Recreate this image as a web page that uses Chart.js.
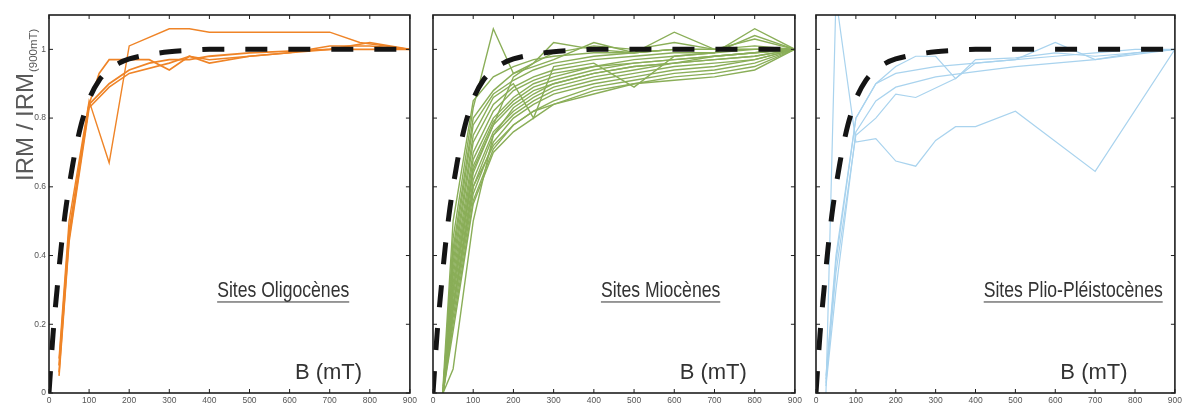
<!DOCTYPE html>
<html>
<head>
<meta charset="utf-8">
<script src="https://cdn.jsdelivr.net/npm/chart.js@4.4.0/dist/chart.umd.min.js"></script>
<style>
  html, body { margin: 0; padding: 0; background: #fff; }
  #wrap { position: relative; width: 1185px; height: 403px; overflow: hidden; }
  canvas { position: absolute; top: 0; }
</style>
</head>
<body>
<div id="wrap">
  <canvas id="oligo" width="420" height="403" style="left:0px"></canvas>
  <canvas id="mio" width="385" height="403" style="left:420px"></canvas>
  <canvas id="plio" width="380" height="403" style="left:805px"></canvas>
</div>
<script>
// axis ticks
const ticksB = [0, 100, 200, 300, 400, 500, 600, 700, 800, 900];
const ticksIRM = [0, 0.2, 0.4, 0.6, 0.8, 1];

// reference curve (dashed)
const refB   = [0, 10, 20, 30, 40, 50, 60, 70, 80, 90, 100, 125, 150, 175, 200, 250, 300, 350, 400, 500, 600, 700, 800, 900];
const refIRM = [0, 0.17, 0.3, 0.42, 0.52, 0.6, 0.67, 0.73, 0.78, 0.82, 0.855, 0.91, 0.94, 0.96, 0.972, 0.985, 0.993, 0.997, 1.0, 1.0, 1.0, 1.0, 1.0, 1.0];

// Oligocene sites
const oligB1 = [25, 50, 100, 150, 200, 300, 350, 400, 500, 600, 700, 775, 900];
const oligIRM1 = [0.1, 0.5, 0.85, 0.67, 1.01, 1.06, 1.06, 1.05, 1.05, 1.05, 1.05, 1.02, 1.0];
const oligB2 = [25, 50, 100, 125, 150, 200, 250, 300, 350, 400, 500, 600, 700, 800, 900];
const oligIRM2 = [0.06, 0.45, 0.84, 0.93, 0.97, 0.97, 0.97, 0.94, 0.98, 0.96, 0.98, 0.99, 1.01, 1.01, 1.0];
const oligB3 = [25, 50, 100, 150, 200, 250, 300, 350, 400, 500, 600, 700, 800, 900];
const oligIRM3 = [0.08, 0.47, 0.84, 0.9, 0.94, 0.96, 0.97, 0.97, 0.98, 0.99, 0.995, 1.0, 1.0, 1.0];
const oligB4 = [25, 50, 100, 150, 200, 300, 350, 400, 500, 600, 700, 800, 900];
const oligIRM4 = [0.05, 0.44, 0.83, 0.89, 0.93, 0.96, 0.98, 0.97, 0.98, 0.99, 1.0, 1.02, 1.0];

// Miocene sites
const mioB = [25, 50, 100, 150, 200, 250, 300, 400, 500, 600, 700, 800, 900];
const mioIRM1  = [0.02, 0.5, 0.85, 0.92, 0.95, 0.97, 0.98, 0.99, 0.99, 1.0, 1.0, 1.0, 1.0];
const mioIRM2  = [0.0, 0.45, 0.83, 1.06, 0.93, 0.96, 1.02, 1.0, 0.99, 1.0, 1.0, 1.01, 1.0];
const mioIRM3  = [0.0, 0.42, 0.8, 0.88, 0.93, 0.95, 0.97, 1.02, 0.99, 1.0, 1.0, 1.0, 1.0];
const mioIRM4  = [0.01, 0.4, 0.78, 0.87, 0.91, 0.94, 0.96, 0.98, 0.99, 1.05, 1.0, 1.0, 1.0];
const mioIRM5  = [0.0, 0.38, 0.75, 0.86, 0.9, 0.8, 0.95, 0.97, 0.98, 0.99, 0.99, 1.06, 1.0];
const mioIRM6  = [0.0, 0.36, 0.73, 0.84, 0.89, 0.92, 0.94, 0.96, 0.89, 0.98, 0.99, 1.0, 1.0];
const mioIRM7  = [0.0, 0.34, 0.7, 0.82, 0.88, 0.91, 0.93, 0.95, 0.97, 0.98, 0.99, 1.04, 1.0];
const mioIRM8  = [0.0, 0.32, 0.68, 0.8, 0.86, 0.9, 0.92, 0.95, 0.96, 0.97, 0.98, 0.99, 1.0];
const mioIRM9  = [0.0, 0.3, 0.66, 0.79, 0.85, 0.89, 0.91, 0.94, 0.96, 0.97, 0.98, 0.99, 1.0];
const mioIRM10 = [0.0, 0.28, 0.64, 0.78, 0.84, 0.88, 0.9, 0.93, 0.95, 0.96, 0.98, 0.99, 1.0];
const mioIRM11 = [0.0, 0.26, 0.62, 0.76, 0.82, 0.86, 0.89, 0.92, 0.94, 0.96, 0.97, 0.98, 1.0];
const mioIRM12 = [0.0, 0.24, 0.6, 0.75, 0.81, 0.85, 0.88, 0.91, 0.93, 0.95, 0.96, 0.97, 1.0];
const mioIRM13 = [0.0, 0.22, 0.58, 0.73, 0.8, 0.84, 0.87, 0.9, 0.92, 0.94, 0.95, 0.97, 1.0];
const mioIRM14 = [0.0, 0.2, 0.56, 0.71, 0.78, 0.82, 0.85, 0.89, 0.91, 0.93, 0.94, 0.96, 1.0];
const mioIRM15 = [0.0, 0.18, 0.55, 0.7, 0.76, 0.8, 0.84, 0.87, 0.9, 0.92, 0.93, 0.95, 1.0];
const mioIRM16 = [0.0, 0.07, 0.5, 0.75, 0.83, 0.87, 0.9, 0.93, 0.95, 0.96, 0.97, 0.98, 1.0];
const mioIRM17 = [0.0, 0.25, 0.6, 0.72, 0.78, 0.82, 0.84, 0.88, 0.9, 0.91, 0.92, 0.94, 1.0];
const mioIRM18 = [0.01, 0.3, 0.65, 0.78, 0.92, 0.96, 0.99, 1.01, 1.0, 1.02, 1.0, 1.03, 1.0];

// Plio-Pleistocene sites
const plioB1 = [25, 50, 100, 150, 200, 250, 300, 350, 400, 500, 700, 900];
const plioIRM1 = [0.0, 1.15, 0.73, 0.74, 0.675, 0.66, 0.735, 0.775, 0.775, 0.82, 0.645, 1.0];
const plioB2 = [25, 50, 100, 150, 200, 250, 350, 400, 500, 600, 700, 900];
const plioIRM2 = [0.03, 0.35, 0.75, 0.8, 0.87, 0.86, 0.915, 0.96, 0.97, 1.02, 0.97, 1.0];
const plioB3 = [25, 50, 100, 150, 200, 250, 300, 350, 400, 500, 600, 700, 800, 900];
const plioIRM3 = [0.04, 0.38, 0.8, 0.9, 0.95, 0.98, 0.98, 0.915, 0.97, 0.975, 0.99, 0.98, 0.99, 1.0];
const plioB4 = [25, 50, 100, 150, 200, 300, 400, 500, 600, 700, 800, 900];
const plioIRM4 = [0.05, 0.4, 0.8, 0.9, 0.93, 0.95, 0.96, 0.97, 0.98, 0.99, 1.0, 1.0];
const plioB5 = [25, 50, 100, 150, 200, 300, 400, 500, 600, 700, 800, 900];
const plioIRM5 = [0.02, 0.3, 0.76, 0.85, 0.89, 0.92, 0.935, 0.95, 0.96, 0.97, 0.99, 1.0];

const pts = (xs, ys) => xs.map((x, i) => ({ x: x, y: ys[i] }));

function refSet() {
  return {
    data: pts(refB, refIRM), borderColor: '#141414', borderWidth: 5,
    borderDash: [22, 21], cubicInterpolationMode: 'monotone', order: 0
  };
}
function siteSet(xs, ys, color, w) {
  return { data: pts(xs, ys), borderColor: color, borderWidth: w, order: 1 };
}

// condensed text: the narrow font is not installed, squeeze a regular one
function narrowText(ctx, txt, x, y, squeeze) {
  ctx.save();
  ctx.translate(x, y);
  ctx.scale(squeeze, 1);
  ctx.fillText(txt, 0, 0);
  const w = ctx.measureText(txt).width * squeeze;
  ctx.restore();
  return w;
}

// frame, inward ticks and in-plot texts
const panelPlugin = {
  id: 'panel',
  afterDraw(chart, args, opts) {
    const ctx = chart.ctx, a = chart.chartArea;
    const xs = chart.scales.x, ys = chart.scales.y;
    ctx.save();
    ctx.strokeStyle = '#1e1e1e';
    ctx.lineWidth = 1;
    ticksB.forEach(v => {
      const px = xs.getPixelForValue(v);
      ctx.beginPath();
      ctx.moveTo(px, a.bottom); ctx.lineTo(px, a.bottom - 4);
      ctx.moveTo(px, a.top); ctx.lineTo(px, a.top + 4);
      ctx.stroke();
    });
    ticksIRM.forEach(v => {
      const py = ys.getPixelForValue(v);
      ctx.beginPath();
      ctx.moveTo(a.left, py); ctx.lineTo(a.left + 4, py);
      ctx.moveTo(a.right, py); ctx.lineTo(a.right - 4, py);
      ctx.stroke();
    });
    ctx.lineWidth = 1.6;
    ctx.strokeRect(a.left, a.top, a.right - a.left, a.bottom - a.top);

    // site label, underlined
    ctx.fillStyle = '#333';
    ctx.strokeStyle = '#333';
    ctx.font = '22px "Liberation Sans", Arial, sans-serif';
    ctx.textAlign = 'center';
    ctx.textBaseline = 'alphabetic';
    const lx = xs.getPixelForValue(opts.labelAt[0]);
    const ly = ys.getPixelForValue(opts.labelAt[1]);
    const w = narrowText(ctx, opts.label, lx, ly, 0.8);
    ctx.lineWidth = 1;
    ctx.beginPath();
    ctx.moveTo(lx - w / 2, ly + 4.5); ctx.lineTo(lx + w / 2, ly + 4.5);
    ctx.stroke();

    // axis name inside the plot
    ctx.font = '22px "Liberation Sans", Arial, sans-serif';
    ctx.fillText('B (mT)', xs.getPixelForValue(697), ys.getPixelForValue(0.04));
    ctx.restore();
  }
};

const yTitlePlugin = {
  id: 'ytitle',
  afterDraw(chart) {
    const ctx = chart.ctx;
    ctx.save();
    ctx.translate(33, 181);
    ctx.rotate(-Math.PI / 2);
    ctx.fillStyle = '#5a5a5a';
    ctx.textAlign = 'left';
    ctx.textBaseline = 'alphabetic';
    ctx.font = '24px "Liberation Sans", Arial, sans-serif';
    const main = 'IRM / IRM';
    ctx.fillText(main, 0, 0);
    const w = ctx.measureText(main).width;
    ctx.font = '11.5px "Liberation Sans", Arial, sans-serif';
    ctx.fillText('(900mT)', w + 1, 4);
    ctx.restore();
  }
};

function makePanel(id, datasets, showY, pad, label, labelAt) {
  return new Chart(document.getElementById(id), {
    type: 'line',
    data: { datasets: datasets },
    options: {
      responsive: false,
      animation: false,
      events: [],
      layout: { padding: { top: 15, bottom: 0, left: pad[0], right: pad[1] } },
      elements: { point: { radius: 0 }, line: { tension: 0, borderCapStyle: 'butt' } },
      plugins: {
        legend: { display: false },
        tooltip: { enabled: false },
        panel: { label: label, labelAt: labelAt }
      },
      scales: {
        x: {
          type: 'linear', min: 0, max: 900,
          afterBuildTicks: s => { s.ticks = ticksB.map(v => ({ value: v })); },
          afterFit: s => { s.height = 10; },
          grid: { display: false, drawTicks: false },
          border: { display: false },
          ticks: {
            autoSkip: false, maxRotation: 0, padding: 3, color: '#555',
            font: { size: 8.5, family: '"Liberation Sans", Arial' }
          }
        },
        y: {
          display: showY,
          min: 0, max: 1.1,
          afterBuildTicks: s => { s.ticks = ticksIRM.map(v => ({ value: v })); },
          afterFit: s => { if (showY) s.width = 49; },
          grid: { display: false, drawTicks: false },
          border: { display: false },
          ticks: {
            padding: 3, color: '#555',
            font: { size: 8.5, family: '"Liberation Sans", Arial' },
            callback: v => String(v)
          }
        }
      }
    },
    plugins: showY ? [panelPlugin, yTitlePlugin] : [panelPlugin]
  });
}

const orange = '#ef8427';
makePanel('oligo', [
  refSet(),
  siteSet(oligB1, oligIRM1, orange, 1.4),
  siteSet(oligB2, oligIRM2, orange, 1.6),
  siteSet(oligB3, oligIRM3, orange, 1.8),
  siteSet(oligB4, oligIRM4, orange, 1.6)
], true, [0, 7], 'Sites Oligocènes', [584, 0.278]);

const green = '#8aae58';
const mioSeries = [mioIRM1, mioIRM2, mioIRM3, mioIRM4, mioIRM5, mioIRM6, mioIRM7, mioIRM8, mioIRM9,
  mioIRM10, mioIRM11, mioIRM12, mioIRM13, mioIRM14, mioIRM15, mioIRM16, mioIRM17, mioIRM18];
makePanel('mio', [refSet()].concat(mioSeries.map(ys => siteSet(mioB, ys, green, 1.4))),
  false, [13, 8], 'Sites Miocènes', [566, 0.278]);

const blue = '#a9d3ee';
makePanel('plio', [
  refSet(),
  siteSet(plioB1, plioIRM1, blue, 1.2),
  siteSet(plioB2, plioIRM2, blue, 1.2),
  siteSet(plioB3, plioIRM3, blue, 1.2),
  siteSet(plioB4, plioIRM4, blue, 1.2),
  siteSet(plioB5, plioIRM5, blue, 1.2)
], false, [11, 5], 'Sites Plio-Pléistocènes', [645, 0.278]);
</script>
</body>
</html>
